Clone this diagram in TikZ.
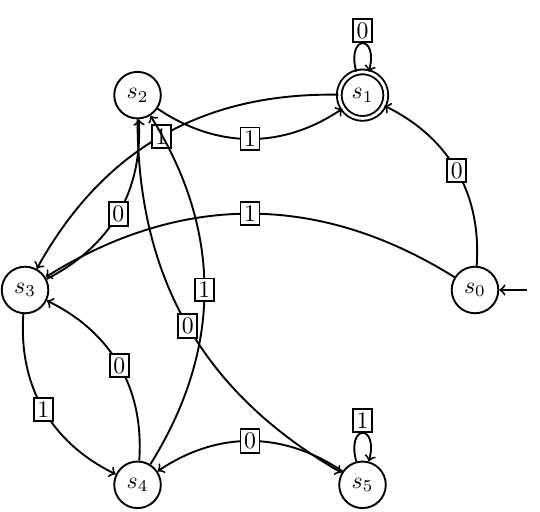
\documentclass[tikz,border=0pt]{standalone}
\begin{document}
\begin{tikzpicture}[
    etat/.style={circle, draw, thick, minimum size=0.69cm, inner sep=0pt},
    final/.style={double, double distance=1.2pt},
    lbl/.style={draw, fill=white, inner sep=1.5pt, thick},
    trans/.style={->, thick, bend right=34}]
  \useasboundingbox (-3.704,-3.289) rectangle (4.296,4.296);

  % Etats (sommets d'un hexagone)
  \node[etat] (s0) at (0:3.333) {$s_0$};
  \node[etat, final] (s1) at (60:3.333) {$s_1$};
  \node[etat] (s2) at (120:3.333) {$s_2$};
  \node[etat] (s3) at (180:3.333) {$s_3$};
  \node[etat] (s4) at (240:3.333) {$s_4$};
  \node[etat] (s5) at (300:3.333) {$s_5$};

  % Etat initial
  \coordinate (init) at (4.10,0);
  \draw[->, thick] (init) -- (s0);

  % Transitions
  \draw[trans] (s0) to node[lbl] {0} (s1);
  \draw[trans, bend right=32] (s0) to node[lbl] {1} (s3);
  \draw[trans, bend right=31] (s1) to node[lbl] {1} (s3);
  \draw[trans] (s2) to node[lbl] {1} (s1);
  \draw[trans, bend right=30] (s2) to node[lbl] {0} (s5);
  \draw[trans, bend right=33] (s3) to node[lbl] {0} (s2);
  \draw[trans] (s3) to node[lbl] {1} (s4);
  \draw[trans] (s4) to node[lbl] {0} (s3);
  \draw[trans, bend right=32] (s4) to node[lbl] {1} (s2);
  \draw[trans] (s5) to node[lbl] {0} (s4);

  % Boucles
  \draw[->, thick] (s1) to[loop above] node[lbl, above] {0} (s1);
  \draw[->, thick] (s5) to[loop above] node[lbl, above] {1} (s5);
\end{tikzpicture}
\end{document}
